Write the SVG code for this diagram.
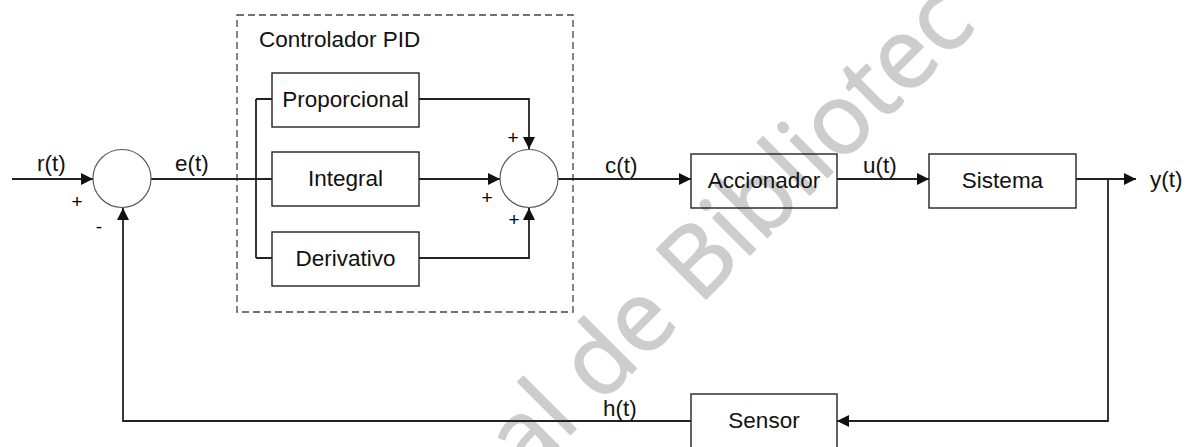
<svg xmlns="http://www.w3.org/2000/svg" width="1187" height="447" viewBox="0 0 1187 447">
  <style>
    .wm { font-family: "Open Sans", "Liberation Sans", sans-serif; font-size: 98px; font-weight: 400; fill: #cdcdcd; stroke: #cdcdcd; stroke-width: 1.5; stroke-linejoin: round; }
    .box { fill: none; stroke: #222; stroke-width: 1.4; }
    .sum { fill: none; stroke: #555; stroke-width: 1.1; }
    .grp { fill: none; stroke: #444; stroke-width: 1.3; stroke-dasharray: 7 4; }
    .lbl { font-family: "Liberation Sans", Arial, sans-serif; font-size: 22.5px; fill: #111; }
    .sign { font-family: "Liberation Sans", Arial, sans-serif; font-size: 19px; fill: #000; }
    .wire { fill: none; stroke: #222; stroke-width: 1.8; }
    .arr { marker-end: url(#head); }
  </style>
  <defs>
    <marker id="head" markerUnits="userSpaceOnUse" markerWidth="13" markerHeight="12" refX="12" refY="6" orient="auto">
      <path d="M0,0 L12,6 L0,12 Z" fill="#111"/>
    </marker>
  </defs>

  <rect width="1187" height="447" fill="#fff"/>

  <!-- background watermark -->
  <text class="wm" transform="translate(526,479) rotate(-45)">al de Bibliotec</text>

  <!-- PID controller frame -->
  <g id="pid-frame">
    <rect class="grp" x="237" y="15" width="336" height="297"/>
    <text class="lbl" x="259" y="47">Controlador PID</text>
  </g>

  <!-- connectors -->
  <g id="connectors">
    <path class="wire arr" d="M12,179 H93"/>
    <path class="wire" d="M151,179 H272 M256,99 V258 M256,99 H272 M256,258 H272"/>
    <path class="wire arr" d="M419,99 H529 V149"/>
    <path class="wire arr" d="M419,179 H500"/>
    <path class="wire arr" d="M419,258 H529 V208"/>
    <path class="wire arr" d="M558,179 H691"/>
    <path class="wire arr" d="M837,179 H929"/>
    <path class="wire arr" d="M1076,179 H1136"/>
    <path class="wire arr" d="M1108,179 V421 H837"/>
    <path class="wire arr" d="M691,421 H123 V208"/>
    <text class="lbl" x="37" y="171">r(t)</text>
    <text class="lbl" x="175" y="171">e(t)</text>
    <text class="lbl" x="605" y="173">c(t)</text>
    <text class="lbl" x="863" y="173">u(t)</text>
    <text class="lbl" x="1150" y="187">y(t)</text>
    <text class="lbl" x="603" y="416">h(t)</text>
  </g>

  <!-- input comparator -->
  <g id="sum-error">
    <circle class="sum" cx="122" cy="178.5" r="29"/>
    <text class="sign" x="77" y="208" text-anchor="middle">+</text>
    <text class="sign" x="99" y="233" text-anchor="middle">-</text>
  </g>

  <g id="proporcional">
    <rect class="box" x="272" y="73" width="147" height="54"/>
    <text class="lbl" x="345.5" y="107" text-anchor="middle">Proporcional</text>
  </g>
  <g id="integral">
    <rect class="box" x="272" y="152" width="147" height="54"/>
    <text class="lbl" x="345.5" y="186" text-anchor="middle">Integral</text>
  </g>
  <g id="derivativo">
    <rect class="box" x="272" y="232" width="147" height="54"/>
    <text class="lbl" x="345.5" y="266" text-anchor="middle">Derivativo</text>
  </g>

  <!-- PID summing junction -->
  <g id="sum-pid">
    <circle class="sum" cx="529" cy="178.5" r="29"/>
    <text class="sign" x="513" y="144" text-anchor="middle">+</text>
    <text class="sign" x="487" y="204" text-anchor="middle">+</text>
    <text class="sign" x="514" y="226" text-anchor="middle">+</text>
  </g>

  <g id="accionador">
    <rect class="box" x="691" y="154" width="146" height="54"/>
    <text class="lbl" x="764" y="188" text-anchor="middle">Accionador</text>
  </g>
  <g id="sistema">
    <rect class="box" x="929" y="154" width="147" height="54"/>
    <text class="lbl" x="1002.5" y="188" text-anchor="middle">Sistema</text>
  </g>
  <g id="sensor">
    <rect class="box" x="691" y="394" width="146" height="55"/>
    <text class="lbl" x="764" y="428" text-anchor="middle">Sensor</text>
  </g>
</svg>
